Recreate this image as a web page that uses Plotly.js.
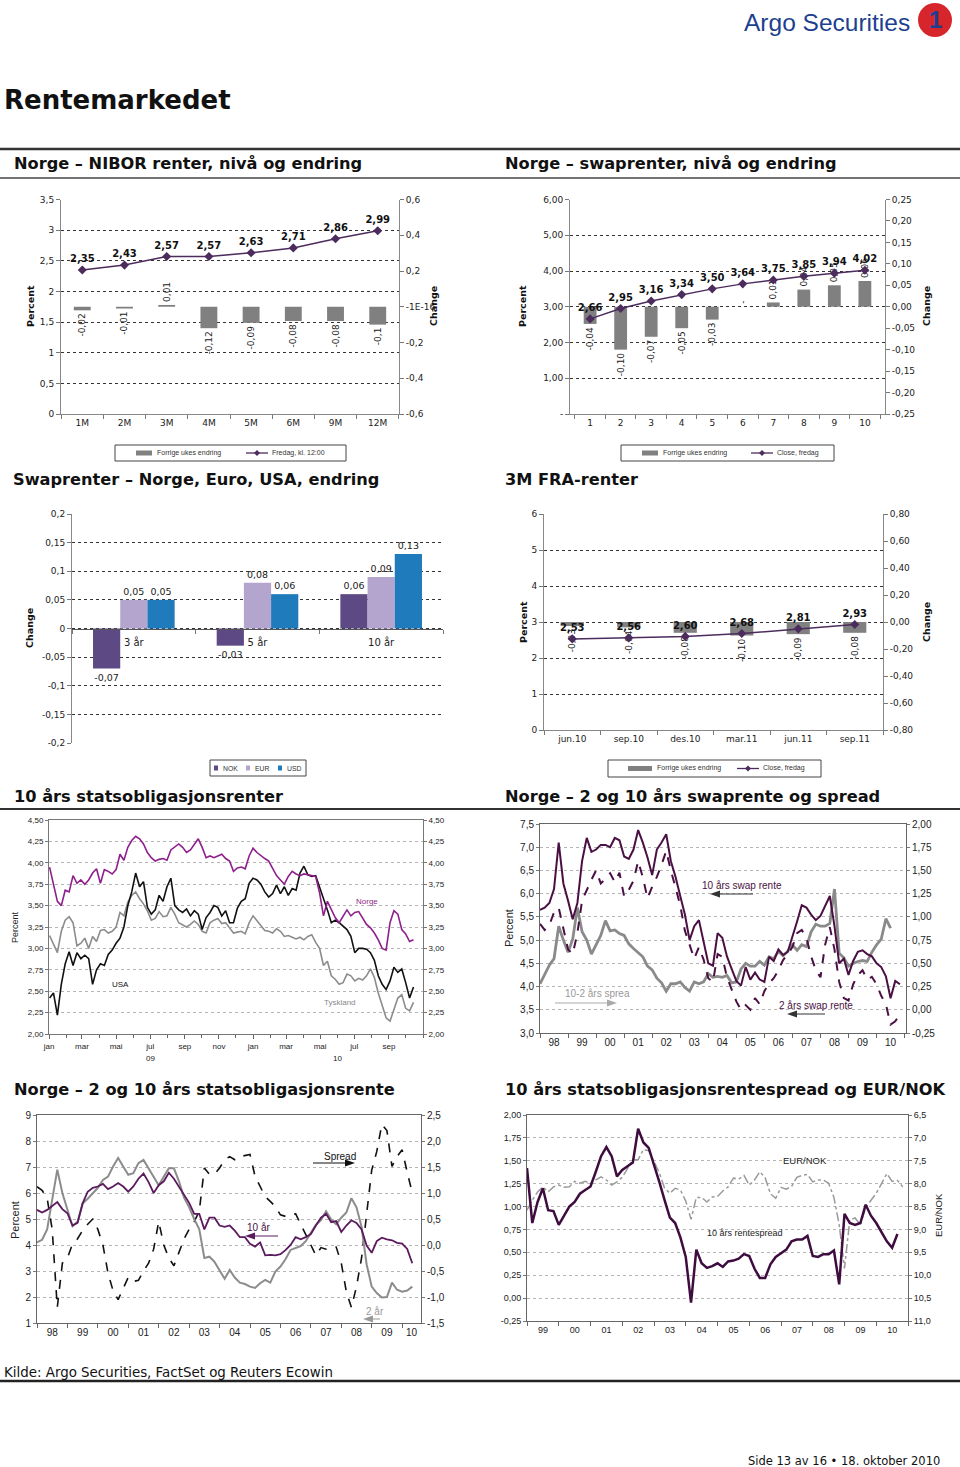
<!DOCTYPE html>
<html><head><meta charset="utf-8">
<script src="https://cdn.plot.ly/plotly-3.0.1.min.js"></script>
<style>html,body{margin:0;padding:0;background:#fff}#chart{width:960px;height:1467px}</style>
</head><body><div id="chart"></div>
<script>
// ---------------- DATA ----------------
const niborTenors = ['1M','2M','3M','4M','5M','6M','9M','12M'];
const niborLevel  = [2.35,2.43,2.57,2.57,2.63,2.71,2.86,2.99];
const niborChange = [-0.02,-0.01,0.01,-0.12,-0.09,-0.08,-0.08,-0.1];

const swapTenors = ['1','2','3','4','5','6','7','8','9','10'];
const swapLevel  = [2.66,2.95,3.16,3.34,3.50,3.64,3.75,3.85,3.94,4.02];
const swapChange = [-0.04,-0.10,-0.07,-0.05,-0.03,0,0.01,0.04,0.05,0.06];

const swapMaturities = ['3 år','5 år','10 år'];
const chgNOK = [-0.07,-0.03,0.06];
const chgEUR = [0.05,0.08,0.09];
const chgUSD = [0.05,0.06,0.13];

const fraContracts = ['jun.10','sep.10','des.10','mar.11','jun.11','sep.11'];
const fraLevel  = [2.53,2.56,2.60,2.68,2.81,2.93];
const fraChange = [-0.03,-0.04,-0.08,-0.10,-0.09,-0.08];

const nameChange = 'Forrige ukes endring';
const nameNibor = 'Fredag, kl. 12:00';
const nameClose = 'Close, fredag';
const ccyNames = ['NOK','EUR','USD'];

// 10y government bonds, weekly observations from 2009-01-02
const bondStart = '2009-01-02';
const bondNorge = [3.95,3.75,3.55,3.50,3.68,3.66,3.85,3.76,3.80,3.75,
 3.80,3.88,3.93,3.76,3.92,3.90,3.87,3.92,4.10,4.03,
 4.18,4.26,4.31,4.28,4.22,4.12,4.06,4.02,4.04,4.05,
 4.03,4.15,4.18,4.22,4.18,4.12,4.15,4.22,4.28,4.18,
 4.06,4.08,4.06,4.08,4.10,4.05,4.02,3.90,3.94,3.95,
 3.93,4.08,4.17,4.12,4.08,4.05,4.02,3.94,3.85,3.80,
 3.75,3.84,3.90,3.87,3.85,3.87,3.86,3.85,3.84,3.65,
 3.38,3.55,3.45,3.36,3.30,3.38,3.45,3.38,3.42,3.43,
 3.35,3.28,3.24,3.18,3.10,3.00,2.98,3.30,3.44,3.40,
 3.22,3.17,3.08,3.10];
const bondUSA = [2.42,2.48,2.22,2.58,2.82,2.96,2.80,2.95,2.88,2.92,
 2.88,2.58,2.75,2.82,2.80,2.93,2.98,3.06,3.12,3.25,
 3.50,3.66,3.88,3.72,3.78,3.48,3.40,3.45,3.62,3.55,
 3.72,3.82,3.50,3.45,3.42,3.46,3.38,3.44,3.40,3.22,
 3.36,3.42,3.50,3.48,3.38,3.44,3.30,3.30,3.47,3.55,
 3.58,3.76,3.82,3.80,3.75,3.66,3.60,3.64,3.74,3.64,
 3.72,3.62,3.70,3.68,3.88,3.96,3.86,3.84,3.85,3.72,
 3.58,3.45,3.30,3.33,3.30,3.26,3.22,3.14,2.95,3.00,
 3.00,2.99,2.95,2.86,2.68,2.58,2.52,2.62,2.78,2.72,
 2.76,2.60,2.42,2.55];
const bondTyskland = [3.15,3.05,2.95,3.20,3.33,3.37,3.30,3.03,3.06,3.12,
 3.00,3.14,3.08,3.21,3.22,3.18,3.20,3.25,3.42,3.38,
 3.54,3.62,3.66,3.58,3.52,3.44,3.33,3.35,3.43,3.37,
 3.38,3.48,3.40,3.30,3.27,3.25,3.28,3.32,3.28,3.20,
 3.18,3.30,3.33,3.35,3.29,3.30,3.24,3.18,3.19,3.20,
 3.17,3.30,3.38,3.32,3.26,3.21,3.20,3.18,3.23,3.20,
 3.14,3.15,3.13,3.11,3.13,3.10,3.14,3.16,3.07,3.00,
 2.80,2.85,2.68,2.64,2.58,2.60,2.70,2.68,2.62,2.65,
 2.63,2.68,2.76,2.66,2.48,2.32,2.19,2.15,2.30,2.42,
 2.46,2.30,2.27,2.37];
const bondMonthTicks = ['2009-01-01','2009-03-01','2009-05-01','2009-07-01','2009-09-01','2009-11-01',
 '2010-01-01','2010-03-01','2010-05-01','2010-07-01','2010-09-01'];
const bondMonthLabels = ['jan','mar','mai','jul','sep','nov','jan','mar','mai','jul','sep'];

// Norwegian swap rates, every 2 months from start of 1998
const swapStart = 1998;
const swap10y = [5.65,5.70,5.80,6.10,7.10,6.22,5.85,5.45,5.80,6.70,
 7.20,6.90,6.95,7.05,7.05,7.00,7.20,7.15,6.80,6.75,
 6.95,7.37,7.10,6.78,6.40,6.95,7.10,7.28,6.70,6.36,
 5.95,5.55,5.00,5.30,5.43,4.95,4.50,4.45,5.15,5.05,
 4.65,4.38,4.12,4.02,4.42,4.15,4.30,4.15,4.10,4.64,
 4.55,4.80,4.68,4.75,5.05,5.40,5.75,5.70,5.55,5.43,
 5.52,5.75,5.95,5.30,4.50,4.60,4.25,4.55,4.75,4.78,
 4.70,4.65,4.50,4.42,4.22,3.75,4.12,4.05];
const swap2y = [5.35,5.22,5.32,5.60,5.70,5.25,4.80,4.70,5.15,5.85,
 6.08,6.30,6.50,6.22,6.32,6.44,6.25,6.45,5.94,6.08,
 6.28,6.70,6.35,5.90,6.15,6.36,6.62,6.92,6.50,6.15,
 5.75,5.20,4.90,4.60,4.85,4.58,4.18,4.10,4.70,4.64,
 4.20,3.95,3.68,3.50,3.60,3.50,3.75,3.62,3.90,4.07,
 4.18,4.35,4.57,4.70,4.85,5.15,5.22,5.05,4.65,4.35,
 4.20,4.90,5.28,4.80,4.10,3.75,3.70,4.05,4.25,4.35,
 4.15,4.21,4.05,3.80,3.62,3.18,3.25,3.40];
const swapSpread = [0.28,0.38,0.48,0.55,0.90,0.75,0.62,0.76,1.10,0.84,
 0.75,0.60,0.70,0.80,0.96,0.85,0.86,0.82,0.80,0.71,
 0.66,0.62,0.57,0.47,0.43,0.34,0.29,0.20,0.28,0.28,
 0.30,0.24,0.20,0.30,0.28,0.30,0.39,0.35,0.36,0.35,
 0.37,0.29,0.30,0.44,0.50,0.47,0.47,0.52,0.48,0.57,
 0.55,0.63,0.58,0.63,0.70,0.64,0.70,0.68,0.84,0.92,
 0.90,0.90,0.93,1.30,0.61,0.56,0.47,0.50,0.52,0.53,
 0.52,0.62,0.70,0.76,0.98,0.88];

// Norwegian government bonds, every 2 months from start of 1998
const govStart = 1998;
const gov10y = [5.35,5.25,5.35,5.50,5.65,5.38,5.22,4.75,4.85,5.60,
 6.05,6.20,6.25,6.35,6.15,6.25,6.38,6.25,6.05,6.25,
 6.55,6.75,6.42,6.00,6.30,6.45,6.78,6.55,6.25,5.90,
 5.62,5.20,5.20,4.60,5.05,5.05,4.75,4.70,4.75,4.55,
 4.30,4.30,4.05,3.94,4.10,3.60,3.62,3.60,3.65,3.80,
 4.00,4.30,4.22,4.30,4.42,4.75,5.05,5.20,4.88,4.92,
 4.50,4.75,4.95,4.85,4.60,3.98,3.70,4.15,4.28,4.22,
 4.18,4.08,4.05,3.85,3.30];
const gov2y = [4.10,4.20,4.60,5.70,6.90,6.00,5.40,4.72,4.90,5.60,
 5.78,6.00,6.20,6.50,6.63,7.02,7.35,7.02,6.70,6.76,
 7.15,7.27,6.95,6.60,6.30,6.63,6.95,6.95,6.45,5.82,
 5.45,5.00,4.60,3.50,3.55,3.35,3.05,2.70,3.04,2.75,
 2.55,2.50,2.40,2.35,2.53,2.66,2.55,2.98,3.17,3.45,
 3.81,3.90,3.96,4.15,4.45,4.78,4.96,5.30,4.98,4.80,
 5.05,5.25,5.80,5.45,4.70,3.25,2.40,2.15,1.98,2.00,
 2.55,2.28,2.20,2.25,2.40];
const govSpread = [1.12,1.05,0.90,0.30,-1.20,-0.35,-0.25,0.02,0.12,0.28,
 0.40,0.50,0.30,0.00,-0.54,-0.88,-1.05,-0.82,-0.62,-0.70,
 -0.68,-0.50,-0.35,-0.08,0.45,0.00,-0.25,-0.40,-0.15,0.12,
 0.30,0.45,0.65,1.48,1.36,1.36,1.48,1.64,1.70,1.64,
 1.70,1.72,1.74,1.32,1.12,0.93,0.84,0.74,0.58,0.55,
 0.57,0.60,0.40,0.20,-0.01,-0.20,-0.05,-0.08,-0.06,-0.04,
 -0.35,-0.90,-1.20,-0.80,-0.25,0.60,1.44,1.80,2.32,2.20,
 1.51,1.70,1.83,1.40,1.00];

// 10y spread vs Germany and EUR/NOK, every 2 months from start of 1999
const eurStart = 1999;
const spread10Eur = [1.42,0.82,1.05,1.20,0.96,0.95,0.80,0.90,1.00,1.05,
 1.14,1.18,1.22,1.38,1.55,1.65,1.55,1.33,1.40,1.44,
 1.48,1.85,1.70,1.64,1.46,1.27,1.07,0.88,0.82,0.66,
 0.45,-0.05,0.53,0.38,0.33,0.35,0.38,0.34,0.40,0.41,
 0.43,0.48,0.46,0.32,0.22,0.22,0.37,0.45,0.49,0.53,
 0.62,0.64,0.64,0.68,0.46,0.45,0.48,0.48,0.52,0.15,
 0.92,0.82,0.80,0.82,1.02,0.90,0.82,0.72,0.62,0.55,
 0.70];
const eurNok = [8.58,8.36,8.18,8.07,8.18,8.07,8.03,8.08,8.07,7.95,
 7.99,7.95,7.99,7.92,7.85,7.92,8.03,7.96,7.86,7.67,
 7.48,7.48,7.25,7.28,7.52,7.76,8.10,8.21,8.10,8.14,
 8.38,8.78,8.30,8.30,8.40,8.29,8.28,8.16,8.07,7.88,
 7.90,7.82,8.03,7.92,7.74,7.87,8.22,8.32,8.08,8.12,
 8.06,7.86,7.82,7.80,7.96,7.92,7.92,7.99,8.30,8.90,
 9.85,8.79,8.75,8.90,8.52,8.36,8.21,8.00,7.78,7.95,
 7.93,8.07];

// ---------------- HELPERS ----------------
const W=960, H=1467;
const px=x=>x/W, py=y=>1-y/H;
const FONT='DejaVu Sans', SMALL='Liberation Sans';
const fmt=(v,d)=>(d==null?String(Math.round(v*1e6)/1e6):v.toFixed(d)).replace('.',',');
const rng=(a,b,s)=>{const r=[];for(let v=a;v<=b+1e-9;v+=s)r.push(Math.round(v*1000)/1000);return r;};
const tick=(vals,dec,custom)=>({tickmode:'array',tickvals:vals,ticktext:vals.map(v=>custom?custom(v):fmt(v,dec))});
const weekly=(start,n)=>{const d0=Date.parse(start+'T00:00:00Z');return Array.from({length:n},(_,i)=>new Date(d0+i*7*864e5).toISOString().slice(0,10));};
const bimonthly=(start,n)=>Array.from({length:n},(_,i)=>start+i/6);

const PURPLE='#4b2c5c', BARGRAY='#808080';
const CCY_COLORS=['#5d4a84','#b3a5cd','#1f7bbb'];
const tf=(s)=>({family:FONT,size:s||9,color:'#222'});
const data=[], shapes=[], annotations=[];
const ann=(text,x,y,o)=>annotations.push(Object.assign({text,x:px(x),y:py(y),xref:'paper',yref:'paper',showarrow:false,xanchor:'left',yanchor:'middle',font:{family:FONT,size:9,color:'#111'}},o||{}));
const P=(x,y)=>px(x)+','+py(y);
function hline(y,w,c){shapes.push({type:'line',xref:'paper',yref:'paper',x0:0,x1:1,y0:py(y),y1:py(y),line:{color:c,width:w}});}
function rect(x0,y0,x1,y1,fill,lc,lw){shapes.push({type:'rect',xref:'paper',yref:'paper',x0:px(x0),x1:px(x1),y0:py(y1),y1:py(y0),fillcolor:fill,line:{color:lc||fill,width:lw||0}});}
function arrow(x1,y1,x2,y2,color){
  const s=Math.sign(x2-x1);
  shapes.push({type:'line',xref:'paper',yref:'paper',x0:px(x1),y0:py(y1),x1:px(x2-s*6),y1:py(y2),line:{color,width:1}});
  shapes.push({type:'path',xref:'paper',yref:'paper',path:`M${P(x2,y2)} L${P(x2-s*10,y2-3.5)} L${P(x2-s*10,y2+3.5)} Z`,fillcolor:color,line:{color,width:0}});
}
// legend helpers (drawn as page decoration)
const legFont={family:SMALL,size:7,color:'#333'};
function legBox(x0,y0,x1,y1){rect(x0,y0,x1,y1,'#fff','#444',1);}
function legBar(x0,x1,yc,h,color,label,font){rect(x0,yc-h/2,x1,yc+h/2,color);ann(label,x1+2.5,yc,{font:font||legFont});}
function legLine(x0,x1,yc,color,label){
  shapes.push({type:'line',xref:'paper',yref:'paper',x0:px(x0),x1:px(x1),y0:py(yc),y1:py(yc),line:{color,width:1.3}});
  const c=(x0+x1)/2;
  shapes.push({type:'path',xref:'paper',yref:'paper',path:`M${P(c,yc-3)} L${P(c+3,yc)} L${P(c,yc+3)} L${P(c-3,yc)} Z`,fillcolor:color,line:{color,width:0}});
  ann(label,x1+2,yc,{font:legFont});
}
const catAxis=(d0,d1,anchor)=>({type:'category',domain:[px(d0),px(d1)],anchor,tickson:'boundaries',ticks:'outside',ticklen:4,tickcolor:'#777',showline:true,linecolor:'#888',showgrid:false,zeroline:false,tickfont:tf(9),fixedrange:true});
const valAxis=o=>Object.assign({zeroline:false,showline:true,linecolor:'#888',ticks:'outside',ticklen:4,tickcolor:'#777',tickfont:tf(9),fixedrange:true,showgrid:false},o);
const dotGrid={showgrid:true,gridcolor:'#333',griddash:'dot',gridwidth:1};
const lightGrid={showgrid:true,gridcolor:'#b5b5b5',griddash:'dot',gridwidth:1};
function yearAxis(d0,d1,anchor,y0,y1,rangeEnd,size){
  const years=[];for(let y=y0;y<=y1;y++)years.push(y);
  return {domain:[px(d0),px(d1)],anchor,range:[y0,rangeEnd],tickmode:'array',
    tickvals:years.map(y=>Math.min(y+0.5,(y+rangeEnd)/2)),ticktext:years.map(y=>String(y%100).padStart(2,'0')),
    ticks:'',showgrid:false,zeroline:false,showline:true,mirror:true,linecolor:'#666',
    tickfont:{family:SMALL,size,color:'#222'},fixedrange:true,
    minor:{tick0:y0,dtick:1,ticks:'outside',ticklen:4,tickcolor:'#666',showgrid:false}};
}
const smallTick=(s)=>({family:SMALL,size:s,color:'#222'});

const layout={width:W,height:H,margin:{l:0,r:0,t:0,b:0},paper_bgcolor:'#fff',plot_bgcolor:'rgba(0,0,0,0)',showlegend:false,
  barmode:'group',bargap:0.34,bargroupgap:0,hovermode:false,font:{family:FONT,size:9,color:'#222'}};

// ---------------- CHART 1: NIBOR ----------------
data.push({type:'bar',x:niborTenors,y:niborChange,xaxis:'x',yaxis:'y',name:nameChange,
  marker:{color:BARGRAY},width:0.4,text:niborChange.map(v=>fmt(v)),textposition:'outside',textangle:-90,
  textfont:tf(9),cliponaxis:false,constraintext:'none'});
data.push({type:'scatter',mode:'lines+markers+text',x:niborTenors,y:niborLevel,xaxis:'x',yaxis:'y2',name:nameNibor,
  line:{color:PURPLE,width:1.5},marker:{symbol:'diamond',size:7,color:PURPLE},
  text:niborLevel.map(v=>'<b>'+fmt(v,2)+'</b>'),textposition:'top center',textfont:{family:FONT,size:10,color:'#111'},cliponaxis:false});
layout.xaxis=catAxis(61,399,'y');
layout.yaxis=valAxis({domain:[py(414),py(199.5)],anchor:'x',side:'right',range:[-0.6,0.6],...tick(rng(-0.6,0.6,0.2),1,v=>v===0?'-1E-16':fmt(v,1))});
layout.yaxis2=valAxis({overlaying:'y',side:'left',anchor:'x',range:[0,3.5],...tick(rng(0,3.5,0.5)),...dotGrid});
legBox(115,445,346,461); legBar(136,152,453,5,BARGRAY,nameChange); legLine(246,268,453,PURPLE,nameNibor);

// ---------------- CHART 2: swap ----------------
data.push({type:'bar',x:swapTenors,y:swapChange,xaxis:'x2',yaxis:'y3',name:nameChange,
  marker:{color:BARGRAY},width:0.42,text:swapChange.map(v=>v===0?'-':fmt(v,2)),textposition:'outside',textangle:-90,
  textfont:tf(9),cliponaxis:false,constraintext:'none'});
data.push({type:'scatter',mode:'lines+markers+text',x:swapTenors,y:swapLevel,xaxis:'x2',yaxis:'y4',name:nameClose,
  line:{color:PURPLE,width:1.5},marker:{symbol:'diamond',size:7,color:PURPLE},
  text:swapLevel.map(v=>'<b>'+fmt(v,2)+'</b>'),textposition:'top center',textfont:{family:FONT,size:10,color:'#111'},cliponaxis:false});
layout.xaxis2=catAxis(570,885,'y3');
layout.yaxis3=valAxis({domain:[py(414),py(199.5)],anchor:'x2',side:'right',range:[-0.25,0.25],...tick(rng(-0.25,0.25,0.05),2)});
layout.yaxis4=valAxis({overlaying:'y3',side:'left',anchor:'x2',range:[0,6],...tick(rng(0,6,1),2,v=>v===0?'-':fmt(v,2)),...dotGrid});
legBox(621,445,834,461); legBar(642,658,453,5,BARGRAY,nameChange); legLine(751,773,453,PURPLE,nameClose);

// ---------------- CHART 3: swap change NOK/EUR/USD ----------------
[chgNOK,chgEUR,chgUSD].forEach((v,i)=>{
  data.push({type:'bar',x:swapMaturities,y:v,xaxis:'x3',yaxis:'y5',name:ccyNames[i],marker:{color:CCY_COLORS[i]},
    text:v.map(a=>fmt(a)),textposition:'outside',textfont:tf(9.5),cliponaxis:false,constraintext:'none'});
});
layout.xaxis3=Object.assign(catAxis(72,443,'free'),{position:py(628.5),linecolor:'#555',tickfont:tf(10),ticklabelstandoff:4});
layout.yaxis5=valAxis({domain:[py(743),py(514)],anchor:'x3',range:[-0.2,0.2],...tick(rng(-0.2,0.2,0.05)),...dotGrid});
legBox(210,760,306,776);
[214,246,278].forEach((x,i)=>legBar(x,x+4,768,5,CCY_COLORS[i],ccyNames[i],{family:SMALL,size:6.8,color:'#333'}));

// ---------------- CHART 4: FRA ----------------
data.push({type:'bar',x:fraContracts,y:fraChange,xaxis:'x4',yaxis:'y6',name:nameChange,
  marker:{color:BARGRAY},width:0.41,text:fraChange.map(v=>fmt(v,2)),textposition:'outside',textangle:-90,
  textfont:tf(9),cliponaxis:false,constraintext:'none'});
data.push({type:'scatter',mode:'lines+markers+text',x:fraContracts,y:fraLevel,xaxis:'x4',yaxis:'y7',name:nameClose,
  line:{color:PURPLE,width:1.5},marker:{symbol:'diamond',size:7,color:PURPLE},
  text:fraLevel.map(v=>'<b>'+fmt(v,2)+'</b>'),textposition:'top center',textfont:{family:FONT,size:10,color:'#111'},cliponaxis:false});
layout.xaxis4=catAxis(544,883,'y6');
layout.yaxis6=valAxis({domain:[py(730),py(514)],anchor:'x4',side:'right',range:[-0.8,0.8],...tick(rng(-0.8,0.8,0.2),2)});
layout.yaxis7=valAxis({overlaying:'y6',side:'left',anchor:'x4',range:[0,6],...tick(rng(0,6,1)),...dotGrid});
legBox(608,760,821,777); legBar(628,652,768.5,5,BARGRAY,nameChange); legLine(737,759,768.5,PURPLE,nameClose);

// ---------------- CHART 5: 10y gov bonds ----------------
const bondDates=weekly(bondStart,bondNorge.length);
data.push({type:'scatter',mode:'lines',x:bondDates,y:bondTyskland,xaxis:'x5',yaxis:'y8',line:{color:'#8c8c8c',width:1.6}});
data.push({type:'scatter',mode:'lines',x:bondDates,y:bondUSA,xaxis:'x5',yaxis:'y8',line:{color:'#111',width:1.6}});
data.push({type:'scatter',mode:'lines',x:bondDates,y:bondNorge,xaxis:'x5',yaxis:'y9',line:{color:'#8e1f8c',width:1.6}});
layout.xaxis5={type:'date',domain:[px(49),px(423)],anchor:'y8',range:['2009-01-01','2010-11-01'],tickmode:'array',
  tickvals:bondMonthTicks,ticktext:bondMonthLabels,ticks:'outside',ticklen:4,tickcolor:'#666',showgrid:false,zeroline:false,
  showline:true,mirror:true,linecolor:'#777',tickfont:smallTick(8),fixedrange:true,
  minor:{dtick:'M1',tick0:'2009-01-01',ticks:'outside',ticklen:3,tickcolor:'#666',showgrid:false}};
layout.yaxis8=valAxis({domain:[py(1034),py(820)],anchor:'x5',range:[2,4.5],...tick(rng(2,4.5,0.25),2),...lightGrid,linecolor:'#777',ticklen:3,tickfont:smallTick(8)});
layout.yaxis9=valAxis({overlaying:'y8',side:'right',anchor:'x5',range:[2,4.5],...tick(rng(2,4.5,0.25),2),linecolor:'#777',ticklen:3,tickfont:smallTick(8)});

// ---------------- CHART 6: swap 2y/10y & spread ----------------
data.push({type:'scatter',mode:'lines',x:bimonthly(swapStart,swapSpread.length),y:swapSpread,xaxis:'x6',yaxis:'y10',line:{color:'#8a8a8a',width:2.8}});
data.push({type:'scatter',mode:'lines',x:bimonthly(swapStart,swap2y.length),y:swap2y,xaxis:'x6',yaxis:'y11',line:{color:'#4a1043',width:2,dash:'dash'}});
data.push({type:'scatter',mode:'lines',x:bimonthly(swapStart,swap10y.length),y:swap10y,xaxis:'x6',yaxis:'y11',line:{color:'#4a1043',width:2}});
layout.xaxis6=yearAxis(540,906,'y10',1998,2010,2011.05,10);
layout.yaxis10=valAxis({domain:[py(1033),py(824)],anchor:'x6',side:'right',range:[-0.25,2],...tick(rng(-0.25,2,0.25),2),...lightGrid,linecolor:'#666',ticklen:3,tickfont:smallTick(10)});
layout.yaxis11=valAxis({overlaying:'y10',side:'left',anchor:'x6',range:[3,7.5],...tick(rng(3,7.5,0.5),1),linecolor:'#666',ticklen:3,tickfont:smallTick(10)});

// ---------------- CHART 7: gov 2y/10y & spread ----------------
data.push({type:'scatter',mode:'lines',x:bimonthly(govStart,govSpread.length),y:govSpread,xaxis:'x7',yaxis:'y12',line:{color:'#111',width:1.6,dash:'dash'}});
data.push({type:'scatter',mode:'lines',x:bimonthly(govStart,gov2y.length),y:gov2y,xaxis:'x7',yaxis:'y13',line:{color:'#8c8c8c',width:2}});
data.push({type:'scatter',mode:'lines',x:bimonthly(govStart,gov10y.length),y:gov10y,xaxis:'x7',yaxis:'y13',line:{color:'#5b1a5e',width:1.8}});
layout.xaxis7=yearAxis(37,421,'y12',1998,2010,2010.62,10);
layout.yaxis12=valAxis({domain:[py(1323),py(1115)],anchor:'x7',side:'right',range:[-1.5,2.5],...tick(rng(-1.5,2.5,0.5),1),...lightGrid,linecolor:'#666',ticklen:3,tickfont:smallTick(10)});
layout.yaxis13=valAxis({overlaying:'y12',side:'left',anchor:'x7',range:[1,9],...tick(rng(1,9,1)),linecolor:'#666',ticklen:3,tickfont:smallTick(10)});

// ---------------- CHART 8: spread vs EUR/NOK ----------------
data.push({type:'scatter',mode:'lines',x:bimonthly(eurStart,eurNok.length),y:eurNok,xaxis:'x8',yaxis:'y14',line:{color:'#9a9a9a',width:1.5,dash:'dashdot'}});
data.push({type:'scatter',mode:'lines',x:bimonthly(eurStart,spread10Eur.length),y:spread10Eur,xaxis:'x8',yaxis:'y15',line:{color:'#3e0c3e',width:2.5}});
layout.xaxis8=yearAxis(527,908,'y14',1999,2010,2011,9);
layout.yaxis14=valAxis({domain:[py(1321),py(1115)],anchor:'x8',side:'right',range:[11,6.5],...tick(rng(6.5,11,0.5),1),...lightGrid,linecolor:'#666',ticklen:3,tickfont:smallTick(9)});
layout.yaxis15=valAxis({overlaying:'y14',side:'left',anchor:'x8',range:[-0.25,2],...tick(rng(-0.25,2,0.25),2),linecolor:'#666',ticklen:3,tickfont:smallTick(9)});

// ---------------- PAGE TEXT & RULES ----------------
ann('Argo Securities',742,22,{font:{family:SMALL,size:24.5,color:'#1d3f8f'}});
shapes.push({type:'circle',xref:'paper',yref:'paper',x0:px(918),x1:px(952),y0:py(37),y1:py(3),fillcolor:'#d7262b',line:{width:0}});
ann('<b>1</b>',935,20,{xanchor:'center',font:{family:SMALL,size:24,color:'#1d3f8f'}});
ann('<b>Rentemarkedet</b>',2,100,{font:{family:FONT,size:26,color:'#111'}});
hline(149,2.5,'#333'); hline(178,1.5,'#444'); hline(809,2,'#333'); hline(1381,2.5,'#222');
const head=(t,x,y)=>ann('<b>'+t+'</b>',x,y,{font:{family:FONT,size:16.2,color:'#111'}});
head('Norge – NIBOR renter, nivå og endring',12,164);
head('Norge – swaprenter, nivå og endring',503,164);
head('Swaprenter – Norge, Euro, USA, endring',11,480);
head('3M FRA-renter',503,480);
head('10 års statsobligasjonsrenter',12,796);
head('Norge – 2 og 10 års swaprente og spread',503,796);
head('Norge – 2 og 10 års statsobligasjonsrente',12,1089);
head('10 års statsobligasjonsrentespread og EUR/NOK',503,1089);
ann('Kilde: Argo Securities, FactSet og Reuters Ecowin',2,1372,{font:{family:FONT,size:13.4,color:'#111'}});
ann('Side 13 av 16 • 18. oktober 2010',942,1461,{xanchor:'right',font:{family:FONT,size:11.5,color:'#111'}});

// axis titles
const vt=(t,x,y,o)=>ann(t,x,y,Object.assign({xanchor:'center',textangle:-90},o||{}));
const bold9={family:FONT,size:9.5,color:'#111'};
vt('<b>Percent</b>',30,306,{font:bold9}); vt('<b>Change</b>',433,306,{font:bold9});
vt('<b>Percent</b>',522,306,{font:bold9}); vt('<b>Change</b>',926,306,{font:bold9});
vt('<b>Change</b>',30,628,{font:bold9});
vt('<b>Percent</b>',523,622,{font:bold9}); vt('<b>Change</b>',926,622,{font:bold9});
vt('Percent',15,927,{font:{family:SMALL,size:9,color:'#222'}});
vt('Percent',509,928,{font:{family:SMALL,size:11,color:'#222'}});
vt('Percent',15,1220,{font:{family:SMALL,size:11,color:'#222'}});
vt('EUR/NOK',938,1215,{font:{family:SMALL,size:9.5,color:'#222'}});

// chart 5 labels
annotations.push({text:'09',x:'2009-07-01',y:py(1052),xref:'x5',yref:'paper',yanchor:'top',showarrow:false,font:{family:SMALL,size:8,color:'#222'}});
annotations.push({text:'10',x:'2010-06-01',y:py(1052),xref:'x5',yref:'paper',yanchor:'top',showarrow:false,font:{family:SMALL,size:8,color:'#222'}});
ann('Norge',354,901,{font:{family:SMALL,size:8,color:'#8e1f8c'}});
ann('USA',110,984,{font:{family:SMALL,size:8,color:'#111'}});
ann('Tyskland',322,1002,{font:{family:SMALL,size:8,color:'#888'}});

// chart 6 labels
ann('10 års swap rente',700,885,{font:{family:SMALL,size:10,color:'#4a1043'}});
arrow(753,894,710,894,'#333');
ann('10-2 års sprea',563,993,{font:{family:SMALL,size:10,color:'#999'}});
arrow(555,1003,617,1003,'#aaa');
ann('2 års swap rente',777,1005,{font:{family:SMALL,size:10,color:'#4a1043'}});
arrow(825,1014,787,1014,'#333');

// chart 7 labels
ann('Spread',322,1156,{font:{family:SMALL,size:10,color:'#111'}});
arrow(313,1163,355,1163,'#111');
ann('10 år',245,1227,{font:{family:SMALL,size:10,color:'#4a1043'}});
arrow(278,1236,245,1236,'#5b1a5e');
ann('2 år',364,1311,{font:{family:SMALL,size:10,color:'#999'}});
arrow(380,1319,363,1319,'#999');

// chart 8 labels
ann('EUR/NOK',781,1160,{font:{family:SMALL,size:9.5,color:'#222'}});
ann('10 års rentespread',705,1233,{font:{family:SMALL,size:9,color:'#222'}});

layout.shapes=shapes; layout.annotations=annotations;
Plotly.newPlot('chart',data,layout,{staticPlot:true,displayModeBar:false});
</script></body></html>
